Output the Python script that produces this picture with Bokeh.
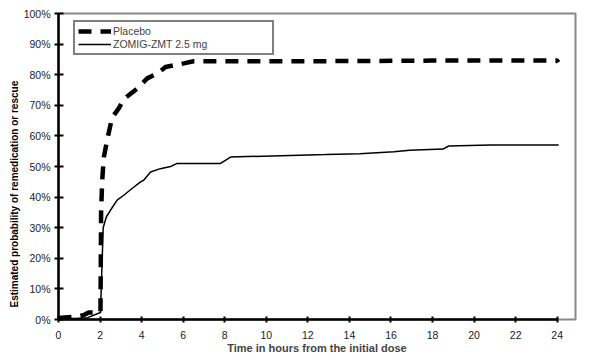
from bokeh.plotting import figure
from bokeh.models import (Range1d, FixedTicker, NumeralTickFormatter, Legend, LegendItem, Title)
from bokeh.embed import file_html
from bokeh.resources import INLINE

# ---- data ----
placebo_t = [0.0, 0.8, 1.2, 1.45, 2.02, 2.05, 2.1, 2.18, 2.34, 2.58, 2.9, 3.14, 3.79,
             4.27, 4.75, 5.15, 6.03, 6.5, 12.0, 18.0, 24.0, 24.05]
placebo_p = [0.005, 0.009, 0.014, 0.023, 0.023, 0.35, 0.45, 0.53, 0.586, 0.66, 0.69, 0.72,
             0.755, 0.788, 0.804, 0.825, 0.837, 0.844, 0.844, 0.846, 0.846, 0.84]

zomig_t = [0.0, 0.8, 1.4, 2.02, 2.08, 2.15, 2.3, 2.5, 2.82, 3.14, 3.54, 3.95, 4.1, 4.43,
           4.9, 5.4, 5.71, 7.8, 8.28, 11.6, 12.85, 14.5, 16.14, 16.9, 18.5, 18.78,
           20.79, 24.07]
zomig_p = [0.005, 0.003, 0.006, 0.023, 0.15, 0.30, 0.335, 0.357, 0.39, 0.406, 0.428, 0.45,
           0.455, 0.482, 0.493, 0.50, 0.51, 0.51, 0.531, 0.537, 0.539, 0.542, 0.548,
           0.553, 0.557, 0.567, 0.57, 0.57]

x_ticks = list(range(0, 25, 2))
y_ticks = [i / 10 for i in range(0, 11)]

series_names = ["Placebo", "ZOMIG-ZMT 2.5 mg"]
x_title = "Time in hours from the initial dose"
y_title = "Estimated probability of remedication or rescue"

FONT = "Liberation Sans"

p = figure(width=602, height=362, output_backend="svg", toolbar_location=None,
           x_range=Range1d(0, 24.88), y_range=Range1d(0, 1),
           min_border_left=58, min_border_right=27, min_border_top=13, min_border_bottom=43)
p.background_fill_color = "white"
p.border_fill_color = "white"
p.outline_line_color = "#888888"
p.outline_line_width = 2
p.xgrid.visible = False
p.ygrid.visible = False

r1 = p.line(placebo_t, placebo_p, line_color="black", line_width=4.5, line_dash="13 9")
r2 = p.line(zomig_t, zomig_p, line_color="black", line_width=1.5)

for ax in (p.xaxis[0], p.yaxis[0]):
    ax.axis_line_color = "black"
    ax.axis_line_width = 2.5
    ax.major_tick_line_color = "black"
    ax.major_tick_line_width = 2
    ax.minor_tick_line_color = None
    ax.major_label_text_font = FONT
    ax.major_label_text_font_size = "10.5px"
    ax.major_label_text_color = "#222222"

p.xaxis.ticker = FixedTicker(ticks=x_ticks)
p.xaxis.bounds = (0, 24)
p.xaxis.major_tick_in = 3
p.xaxis.major_tick_out = 3
p.xaxis.major_label_standoff = 8
p.xaxis.axis_label = x_title
p.xaxis.axis_label_text_font = FONT
p.xaxis.axis_label_text_font_size = "11px"
p.xaxis.axis_label_text_font_style = "bold"
p.xaxis.axis_label_standoff = 0

p.yaxis.ticker = FixedTicker(ticks=y_ticks)
p.yaxis.formatter = NumeralTickFormatter(format="0%")
p.yaxis.major_tick_in = 5
p.yaxis.major_tick_out = 4
p.yaxis.major_label_standoff = 4

yt = Title(text=y_title, align="left", offset=12, text_font=FONT, text_font_size="10px",
           text_font_style="bold", text_color="black", standoff=2)
p.add_layout(yt, "left")

legend = Legend(items=[LegendItem(label=series_names[0], renderers=[r1]),
                       LegendItem(label=series_names[1], renderers=[r2])],
                location=(15, 264), orientation="vertical",
                padding=3, spacing=1, margin=0,
                label_height=10, glyph_height=10, glyph_width=33,
                label_standoff=2, label_width=156,
                label_text_font=FONT, label_text_font_size="10.5px",
                border_line_color="black", border_line_width=2,
                background_fill_color="white", background_fill_alpha=1)
p.add_layout(legend, "center")

open("out.html", "w").write(file_html(p, INLINE))
